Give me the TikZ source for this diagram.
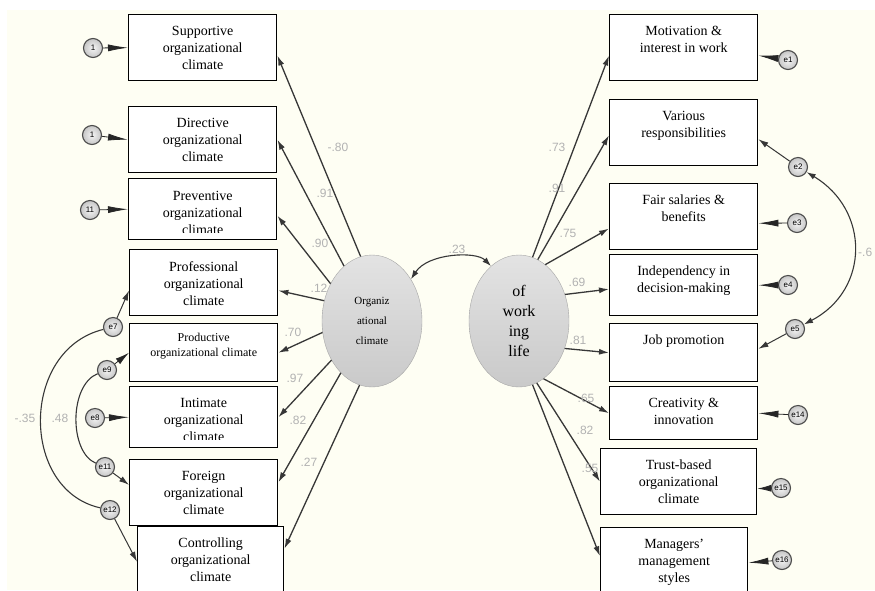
\documentclass[tikz,border=0pt]{standalone}
\usepackage{fontspec}
\setmainfont{Liberation Serif}
\newfontfamily\labelfont{Liberation Sans}
\usetikzlibrary{arrows.meta,shapes.geometric}

\definecolor{paper}{RGB}{254,254,243}
\definecolor{linegray}{RGB}{55,55,55}

\begin{document}
\begin{tikzpicture}[x=1pt,y=-1pt,
  box/.style={draw=black, line width=1.4pt, fill=white, anchor=north west,
    minimum width=148, minimum height=66, inner sep=0},
  boxtext/.style={anchor=north, align=center, inner sep=0,
    font=\fontsize{14}{17}\selectfont},
  latent/.style={ellipse, draw=gray!70, top color=gray!22, bottom color=gray!42,
    minimum width=100, minimum height=132, inner sep=0, align=center},
  err/.style={circle, draw=black!70, line width=1.1pt, inner color=gray!8,
    outer color=gray!45, minimum size=19, inner sep=0,
    font=\labelfont\fontsize{8}{8}\selectfont},
  loading/.style={draw=linegray, line width=1.3pt, -{Latex[length=10pt,width=6pt]}},
  wedge/.style={draw=black!85, line width=0.8pt, -{Latex[length=20pt,width=7pt]}},
  cov/.style={draw=linegray, line width=1.1pt},
  coef/.style={text=gray!60, font=\labelfont\fontsize{12}{12}\selectfont, inner sep=0}]

  \clip (0,0) rectangle (875,590);
  \fill[white] (0,0) rectangle (875,590);
  \fill[paper] (7,10) rectangle (875,590);

  % left indicators
  \node[box] (supp) at (128,14) {};
  \node[boxtext] (supp-t) at ([yshift=-12pt]supp.north) {Supportive\\organizational\\climate};
  \node[box] (dir) at (128,106) {};
  \node[boxtext] (dir-t) at ([yshift=-12pt]dir.north) {Directive\\organizational\\climate};
  \node[box, minimum height=61] (prev) at (128,178) {};
  \begin{scope}
    \clip ([yshift=8pt]prev.south west) rectangle (prev.north east);
    \node[boxtext] (prev-t) at ([yshift=-13pt]prev.north) {Preventive\\organizational\\climate};
  \end{scope}
  \node[box] (prof) at (129,249) {};
  \node[boxtext] (prof-t) at ([yshift=-12pt]prof.north) {Professional\\organizational\\climate};
  \node[box, minimum height=58] (prod) at (129,323) {};
  \node[boxtext, font=\fontsize{12}{15}\selectfont] (prod-t) at ([yshift=-10pt]prod.north) {Productive\\organizational climate};
  \node[box, minimum height=61] (inti) at (129,386) {};
  \begin{scope}
    \clip ([yshift=9pt]inti.south west) rectangle (inti.north east);
    \node[boxtext] (inti-t) at ([yshift=-12pt]inti.north) {Intimate\\organizational\\climate};
  \end{scope}
  \node[box] (fore) at (129,459) {};
  \node[boxtext] (fore-t) at ([yshift=-12pt]fore.north) {Foreign\\organizational\\climate};
  \node[box, minimum width=146, minimum height=70] (ctrl) at (137,526) {};
  \node[boxtext] (ctrl-t) at ([yshift=-12pt]ctrl.north) {Controlling\\organizational\\climate};

  % right indicators
  \node[box] (motiv) at (609,14) {};
  \node[boxtext] (motiv-t) at ([yshift=-12pt]motiv.north) {Motivation \&\\interest in work};
  \node[box] (vari) at (609,99) {};
  \node[boxtext] (vari-t) at ([yshift=-12pt]vari.north) {Various\\responsibilities};
  \node[box] (fair) at (609,183) {};
  \node[boxtext] (fair-t) at ([yshift=-12pt]fair.north) {Fair salaries \&\\benefits};
  \node[box, minimum height=61] (indep) at (609,254) {};
  \node[boxtext] (indep-t) at ([yshift=-12pt]indep.north) {Independency in\\decision-making};
  \node[box, minimum height=58] (job) at (609,323) {};
  \node[boxtext] (job-t) at ([yshift=-12pt]job.north) {Job promotion};
  \node[box, minimum height=53] (crea) at (609,386) {};
  \node[boxtext] (crea-t) at ([yshift=-12pt]crea.north) {Creativity \&\\innovation};
  \node[box, minimum width=156] (trust) at (600,448) {};
  \node[boxtext] (trust-t) at ([yshift=-12pt]trust.north) {Trust-based\\organizational\\climate};
  \node[box, minimum width=147, minimum height=70] (manag) at (600,527) {};
  \node[boxtext] (manag-t) at ([yshift=-12pt]manag.north) {Managers'\\management\\styles};

  % latent variables
  \node[latent, font=\fontsize{11}{20}\selectfont] (oc) at (372,321) {Organiz\\ational\\climate};
  \node[latent, font=\fontsize{16}{20}\selectfont] (wl) at (519,321) {of\\work\\ing\\life};

  % error terms
  \node[err] (e-supp) at (93,48) {1};
  \node[err] (e-dir) at (92,135) {1};
  \node[err] (e-prev) at (90,210) {11};
  \node[err] (e-prof) at (113,327) {e7};
  \node[err] (e-prod) at (107,370) {e9};
  \node[err] (e-inti) at (95,418) {e8};
  \node[err] (e-fore) at (105,467) {e11};
  \node[err] (e-ctrl) at (110,510) {e12};
  \node[err] (e-motiv) at (788,60) {e1};
  \node[err] (e-vari) at (798,167) {e2};
  \node[err] (e-fair) at (797,223) {e3};
  \node[err] (e-indep) at (788,285) {e4};
  \node[err] (e-job) at (795,329) {e5};
  \node[err] (e-crea) at (798,415) {e14};
  \node[err] (e-trust) at (781,488) {e15};
  \node[err] (e-manag) at (782,560) {e16};

  % loadings
  \draw[loading] (oc.100) -- (supp.-6);
  \draw[loading] (oc.117) -- (dir.east);
  \draw[loading] (oc.138) -- (prev.-5);
  \draw[loading] (oc.157) -- (prof.-6);
  \draw[loading] (oc.193) -- (prod.east);
  \draw[loading] (oc.224) -- (inti.east);
  \draw[loading] (oc.239) -- (fore.8);
  \draw[loading] (oc.259) -- (ctrl.10);
  \draw[loading] (wl.78) -- (motiv.186);
  \draw[loading] (wl.73) -- (vari.182);
  \draw[loading] (wl.65) -- (fair.189);
  \draw[loading] (wl.30) -- (indep.183);
  \draw[loading] (wl.-31) -- (job.west);
  \draw[loading] (wl.-67) -- (crea.west);
  \draw[loading] (wl.-74) -- (trust.west);
  \draw[loading] (wl.-78) -- (manag.175);

  \node[coef] (l-supp) at (338,147) {-.80};
  \node[coef] (l-dir) at (325,193) {.91};
  \node[coef] (l-prev) at (320,243) {.90};
  \node[coef] (l-prof) at (319,288) {.12};
  \node[coef] (l-prod) at (293,332) {.70};
  \node[coef] (l-inti) at (295,378) {.97};
  \node[coef] (l-fore) at (298,420) {.82};
  \node[coef] (l-ctrl) at (309,462) {.27};
  \node[coef] (l-motiv) at (557,147) {.73};
  \node[coef] (l-vari) at (557,188) {.91};
  \node[coef] (l-fair) at (568,233) {.75};
  \node[coef] (l-indep) at (577,282) {.69};
  \node[coef] (l-job) at (578,340) {.81};
  \node[coef] (l-crea) at (586,398) {.65};
  \node[coef] (l-trust) at (585,430) {.82};
  \node[coef] (l-manag) at (590,468) {.55};

  % covariances
  \draw[cov, {Latex[length=9pt,width=6pt]}-{Latex[length=9pt,width=6pt]}]
    (oc.47) .. controls (428,253) and (476,251) .. (wl.117);
  \node[coef] (c-lat) at (457,249) {.23};
  \draw[cov, {Latex[length=9pt,width=6pt]}-{Latex[length=9pt,width=6pt]}]
    (e-vari) .. controls (870,210) and (870,290) .. (e-job);
  \node[coef, anchor=west] (c-vj) at (858,252) {-.6};
  \draw[cov] (e-prof) .. controls (20,350) and (20,490) .. (e-ctrl);
  \draw[cov] (e-prod) .. controls (69,385) and (69,452) .. (e-fore);
  \node[coef] (c-pc) at (25,418) {-.35};
  \node[coef] (c-pf) at (60,418) {.48};

  % error paths
  \draw[wedge] (e-supp) -- (supp.west);
  \draw[wedge] (e-dir) -- (dir.west);
  \draw[wedge] (e-prev) -- (prev.west);
  \draw[loading, line width=1pt] (e-prof) -- (prof.186);
  \draw[wedge, -{Latex[length=14pt,width=7pt]}] (e-prod) -- (prod.west);
  \draw[wedge] (e-inti) -- (inti.west);
  \draw[loading, line width=1pt] (e-fore) -- (fore.174);
  \draw[loading, line width=1pt] (e-ctrl) -- (ctrl.west);
  \draw[wedge] (e-motiv) -- (motiv.-6);
  \draw[loading, line width=1pt] (e-vari) -- (vari.-5);
  \draw[wedge] (e-fair) -- (fair.-5);
  \draw[wedge] (e-indep) -- (indep.east);
  \draw[loading, line width=1pt] (e-job) -- (job.3);
  \draw[wedge] (e-crea) -- (crea.east);
  \draw[wedge, -{Latex[length=14pt,width=7pt]}] (e-trust) -- (trust.-5);
  \draw[wedge] (e-manag) -- (manag.east);
\end{tikzpicture}
\end{document}
